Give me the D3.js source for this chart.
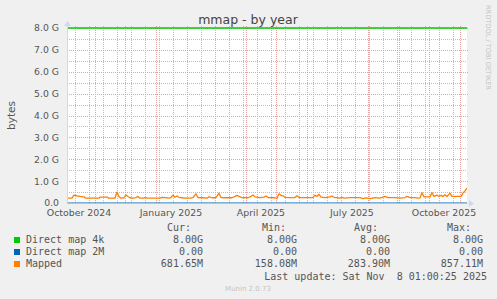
<!DOCTYPE html>
<html>
<head>
<meta charset="utf-8">
<script src="https://cdn.jsdelivr.net/npm/d3@7"></script>
<style>
  html, body { margin: 0; padding: 0; background: #f0f0f0; }
  svg { display: block; }
</style>
</head>
<body>
<div id="chart"></div>
<script>
// time window of the munin "year" graph (400 days up to last update)
const endTime = "2025-11-08T01:00:25Z";
const spanDays = 400;

const yTicks = [0, 1, 2, 3, 4, 5, 6, 7, 8];          // G
const yTickLabels = ["0.0", "1.0 G", "2.0 G", "3.0 G", "4.0 G", "5.0 G", "6.0 G", "7.0 G", "8.0 G"];
const xLabelMonths = ["2024-10-01", "2025-01-01", "2025-04-01", "2025-07-01", "2025-10-01"];

const seriesNames = ["Direct map 4k", "Direct map 2M", "Mapped"];
const seriesColors = ["#00cc00", "#0066b3", "#ff8000"];
const legendCur = ["8.00G", "0.00", "681.65M"];
const legendMin = ["8.00G", "0.00", "158.08M"];
const legendAvg = ["8.00G", "0.00", "283.90M"];
const legendMax = ["8.00G", "0.00", "857.11M"];

const directMap4k = 8.0;   // constant, G
const directMap2M = 0.0;

// Mapped, in G
const mappedDates = [
  "2024-10-04","2024-10-09","2024-10-11","2024-10-14","2024-10-17","2024-10-21","2024-10-23",
  "2024-11-05","2024-11-06","2024-11-13","2024-11-15","2024-11-21","2024-11-23","2024-11-25",
  "2024-11-27","2024-11-30","2024-12-02","2024-12-04","2024-12-06","2024-12-09","2024-12-12",
  "2024-12-14","2024-12-16","2024-12-19","2024-12-21","2024-12-23","2025-01-05","2025-01-07",
  "2025-01-11","2025-01-13","2025-01-16","2025-01-18","2025-01-20","2025-01-22","2025-01-24",
  "2025-01-27","2025-01-30","2025-02-04","2025-02-07","2025-02-10","2025-02-12","2025-02-17",
  "2025-02-21","2025-02-23","2025-02-26","2025-03-02","2025-03-05","2025-03-07","2025-03-12",
  "2025-03-18","2025-03-21","2025-03-23","2025-03-25","2025-03-28","2025-04-03","2025-04-06",
  "2025-04-08","2025-04-10","2025-04-15","2025-04-19","2025-04-21","2025-04-23","2025-04-30",
  "2025-05-02","2025-05-04","2025-05-06","2025-05-08","2025-05-10","2025-05-15","2025-05-20",
  "2025-05-22","2025-05-24","2025-05-31","2025-06-03","2025-06-07","2025-06-09","2025-06-11",
  "2025-06-13","2025-06-15","2025-06-19","2025-06-24","2025-06-26","2025-06-28","2025-07-04",
  "2025-07-06","2025-07-08","2025-07-14","2025-07-24","2025-07-27","2025-07-30","2025-08-03",
  "2025-08-08","2025-08-13","2025-08-18","2025-08-21","2025-08-28","2025-09-02","2025-09-07",
  "2025-09-09","2025-09-12","2025-09-17","2025-09-20","2025-09-22","2025-09-24","2025-09-26",
  "2025-10-02","2025-10-04","2025-10-06","2025-10-09","2025-10-11","2025-10-13","2025-10-15",
  "2025-10-17","2025-10-19","2025-10-22","2025-10-24","2025-10-30","2025-11-02","2025-11-04",
  "2025-11-06","2025-11-08"
];
const mappedValues = [
  0.22,0.22,0.36,0.33,0.30,0.28,0.22,
  0.22,0.27,0.27,0.22,0.22,0.50,0.30,
  0.22,0.24,0.37,0.30,0.24,0.22,0.25,
  0.30,0.22,0.22,0.25,0.22,0.22,0.26,
  0.25,0.22,0.25,0.36,0.26,0.32,0.26,
  0.24,0.22,0.22,0.25,0.42,0.25,0.24,
  0.22,0.28,0.24,0.24,0.45,0.25,0.24,
  0.24,0.30,0.35,0.30,0.25,0.24,0.30,
  0.37,0.28,0.25,0.27,0.32,0.25,0.24,
  0.20,0.42,0.35,0.33,0.26,0.25,0.25,
  0.33,0.25,0.25,0.25,0.25,0.36,0.30,
  0.40,0.27,0.25,0.28,0.32,0.26,0.22,
  0.26,0.22,0.25,0.25,0.20,0.23,0.20,
  0.25,0.22,0.30,0.25,0.25,0.22,0.25,
  0.30,0.25,0.25,0.22,0.23,0.47,0.28,
  0.28,0.48,0.30,0.36,0.30,0.35,0.30,
  0.38,0.30,0.45,0.30,0.30,0.30,0.45,
  0.55,0.68
];

const W = 497, H = 299;
const plot = { left: 67, top: 28, width: 400, height: 175 };
const axisColor = "#cfd6f8";

const svg = d3.select("#chart").append("svg")
  .attr("width", W).attr("height", H);

svg.append("rect").attr("width", W).attr("height", H).attr("fill", "#f0f0f0");

const end = new Date(endTime);
const start = new Date(end.getTime() - spanDays * 864e5);

const x = d3.scaleUtc().domain([start, end]).range([plot.left, plot.left + plot.width]);
const y = d3.scaleLinear().domain([0, 8]).range([plot.top + plot.height, plot.top]);

svg.append("rect")
  .attr("x", plot.left).attr("y", plot.top)
  .attr("width", plot.width).attr("height", plot.height)
  .attr("fill", "#ffffff");

const grid = svg.append("g");
const minorColor = "#bdbdbd", majorColor = "#e4a4a4";

// minor vertical grid, every second week (Saturdays)
const minorX = [];
for (let t = new Date("2025-10-25T00:00:00Z").getTime(); t > start.getTime(); t -= 14 * 864e5) {
  minorX.push(new Date(t));
}
grid.selectAll("line.vminor").data(minorX).enter().append("line")
  .attr("class", "vminor")
  .attr("x1", d => Math.round(x(d)) + 0.5).attr("x2", d => Math.round(x(d)) + 0.5)
  .attr("y1", plot.top - 2).attr("y2", plot.top + plot.height)
  .attr("stroke", minorColor).attr("stroke-width", 1).attr("stroke-dasharray", "1,1");

// minor horizontal grid, every 0.5 G
const minorY = d3.range(0.5, 8, 1);
grid.selectAll("line.hminor").data(minorY).enter().append("line")
  .attr("class", "hminor")
  .attr("x1", plot.left).attr("x2", plot.left + plot.width)
  .attr("y1", d => Math.round(y(d)) + 0.5).attr("y2", d => Math.round(y(d)) + 0.5)
  .attr("stroke", minorColor).attr("stroke-width", 1).attr("stroke-dasharray", "1,1");

// major grid: month starts and whole G
const majorX = d3.utcMonth.range(start, end);
grid.selectAll("line.vmajor").data(majorX).enter().append("line")
  .attr("class", "vmajor")
  .attr("x1", d => Math.round(x(d)) + 0.5).attr("x2", d => Math.round(x(d)) + 0.5)
  .attr("y1", plot.top - 2).attr("y2", plot.top + plot.height)
  .attr("stroke", majorColor).attr("stroke-dasharray", "1,1");

grid.selectAll("line.hmajor").data(yTicks.slice(1)).enter().append("line")
  .attr("class", "hmajor")
  .attr("x1", plot.left).attr("x2", plot.left + plot.width + 2)
  .attr("y1", d => Math.round(y(d)) + 0.5).attr("y2", d => Math.round(y(d)) + 0.5)
  .attr("stroke", majorColor).attr("stroke-dasharray", "1,1");

// y tick labels
svg.append("g").selectAll("text").data(yTicks).enter().append("text")
  .attr("x", 59).attr("y", d => y(d) + 3.4)
  .attr("text-anchor", "end")
  .attr("font-family", "DejaVu Sans")
  .attr("font-size", "9.3px")
  .attr("fill", "#555")
  .text((d, i) => yTickLabels[i]);

// x tick labels, centred mid month as rrdtool does
const fmt = d3.utcFormat("%B %Y");
svg.append("g").selectAll("text").data(xLabelMonths).enter().append("text")
  .attr("x", d => x(d3.utcDay.offset(new Date(d + "T00:00:00Z"), 15)))
  .attr("y", 216)
  .attr("text-anchor", "middle")
  .attr("font-family", "DejaVu Sans")
  .attr("font-size", "9.4px")
  .attr("fill", "#555")
  .text(d => fmt(new Date(d + "T00:00:00Z")));

// series
svg.append("clipPath").attr("id", "plotclip").append("rect")
  .attr("x", plot.left).attr("y", plot.top - 2)
  .attr("width", plot.width).attr("height", plot.height + 4);

const lines = svg.append("g").attr("clip-path", "url(#plotclip)");

lines.append("line")
  .attr("x1", x(start)).attr("x2", x(end))
  .attr("y1", y(directMap4k)).attr("y2", y(directMap4k))
  .attr("stroke", seriesColors[0]).attr("stroke-width", 1.5);

lines.append("line")
  .attr("x1", x(start)).attr("x2", x(end))
  .attr("y1", y(directMap2M)).attr("y2", y(directMap2M))
  .attr("stroke", seriesColors[1]).attr("stroke-width", 1.2);

const mapped = mappedDates.map((d, i) => ({ date: new Date(d + "T00:00:00Z"), value: mappedValues[i] }));
const line = d3.line().x(d => x(d.date)).y(d => y(d.value));
lines.append("path")
  .datum(mapped)
  .attr("d", line)
  .attr("fill", "none")
  .attr("stroke", seriesColors[2])
  .attr("stroke-width", 1.3)
  .attr("stroke-linejoin", "round");

// axes with arrows
const axes = svg.append("g");
axes.append("line")
  .attr("x1", plot.left + 0.5).attr("x2", plot.left + 0.5)
  .attr("y1", plot.top + plot.height).attr("y2", plot.top - 3)
  .attr("stroke", axisColor);
axes.append("path")
  .attr("d", `M${plot.left - 3},${plot.top - 2}L${plot.left + 0.5},${plot.top - 7}L${plot.left + 4},${plot.top - 2}Z`)
  .attr("fill", axisColor);
axes.append("line")
  .attr("x1", plot.left).attr("x2", plot.left + plot.width + 3)
  .attr("y1", plot.top + plot.height + 0.5).attr("y2", plot.top + plot.height + 0.5)
  .attr("stroke", axisColor).attr("stroke-opacity", 0.6);
axes.append("path")
  .attr("d", `M${plot.left + plot.width + 2},${plot.top + plot.height - 3}L${plot.left + plot.width + 7},${plot.top + plot.height + 0.5}L${plot.left + plot.width + 2},${plot.top + plot.height + 4}Z`)
  .attr("fill", axisColor);

// title and side texts
svg.append("text")
  .attr("x", 248).attr("y", 24)
  .attr("text-anchor", "middle")
  .attr("font-family", "DejaVu Sans")
  .attr("font-size", "12.5px")
  .attr("fill", "#444")
  .text("mmap - by year");

svg.append("text")
  .attr("transform", `translate(15,${plot.top + plot.height / 2}) rotate(-90)`)
  .attr("text-anchor", "middle")
  .attr("font-family", "DejaVu Sans")
  .attr("font-size", "10.5px")
  .attr("fill", "#555")
  .text("bytes");

svg.append("text")
  .attr("transform", "translate(486,5) rotate(90)")
  .attr("text-anchor", "start")
  .attr("font-family", "DejaVu Sans")
  .attr("font-size", "6.6px")
  .attr("fill", "#c4c4c4")
  .text("RRDTOOL / TOBI OETIKER");

// legend
const mono = "DejaVu Sans Mono";
const legend = svg.append("g")
  .attr("font-family", mono)
  .attr("font-size", "10px")
  .attr("fill", "#555");

const headers = [["Cur:", 167], ["Min:", 262], ["Avg:", 354], ["Max:", 447]];
legend.selectAll("text.hdr").data(headers).enter().append("text")
  .attr("class", "hdr")
  .attr("x", d => d[1]).attr("y", 231)
  .text(d => d[0]);

const rowY = [243, 255, 267];
const cols = [[legendCur, 203], [legendMin, 297], [legendAvg, 390], [legendMax, 483]];

seriesNames.forEach((name, i) => {
  legend.append("rect")
    .attr("x", 14).attr("y", rowY[i] - 6)
    .attr("width", 6).attr("height", 6)
    .attr("fill", seriesColors[i]);
  legend.append("text")
    .attr("x", 26).attr("y", rowY[i])
    .text(name);
  cols.forEach(([vals, xr]) => {
    legend.append("text")
      .attr("x", xr).attr("y", rowY[i])
      .attr("text-anchor", "end")
      .text(vals[i]);
  });
});

legend.append("text")
  .attr("x", 487).attr("y", 280)
  .attr("text-anchor", "end")
  .style("white-space", "pre")
  .text("Last update: Sat Nov  8 01:00:25 2025");

svg.append("text")
  .attr("x", 248).attr("y", 291)
  .attr("text-anchor", "middle")
  .attr("font-family", "DejaVu Sans")
  .attr("font-size", "7px")
  .attr("fill", "#c4c4c4")
  .text("Munin 2.0.73");
</script>
</body>
</html>
